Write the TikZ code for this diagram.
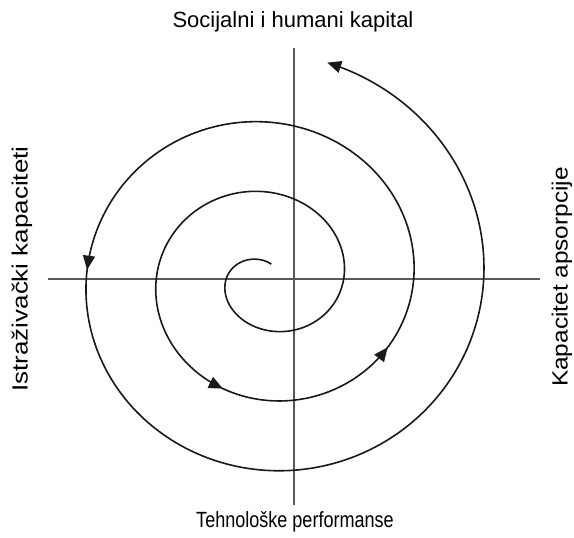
\documentclass[tikz,border=0pt]{standalone}
\usepackage{fontspec}
\setmainfont{Liberation Sans}
\usetikzlibrary{arrows.meta}
\begin{document}
\begin{tikzpicture}[x=1pt,y=-1pt,
  axisline/.style={draw=black!65,line width=1.2pt},
  spiral/.style={draw=black!90,line width=1.6pt,line join=round},
  tip/.style={-{Triangle[length=14pt,width=12pt]}},
  lbl/.style={font=\fontsize{22}{26}\selectfont,inner sep=0pt}]
\useasboundingbox (0,0) rectangle (574,538);
% axes
\coordinate (hL) at (48,279);
\coordinate (hR) at (540,279);
\coordinate (vT) at (294,48);
\coordinate (vB) at (294,505);
\draw[axisline] (hL) -- (hR);
\draw[axisline] (vT) -- (vB);
% spiral: phi in degrees, r = 0.1944 phi - 0.75, rx = r + 7
\def\sx#1{267.5+(0.1944*#1+6.25)*cos(#1)}
\def\sy#1{278.75-(0.1944*#1-0.75)*sin(#1)}
\draw[spiral,tip] plot[smooth,domain=80:609,samples=160,variable=\t] ({\sx{\t}},{\sy{\t}});
\draw[spiral,tip] plot[smooth,domain=606:689,samples=40,variable=\t] ({\sx{\t}},{\sy{\t}});
\draw[spiral,tip] plot[smooth,domain=686:897,samples=80,variable=\t] ({\sx{\t}},{\sy{\t}});
\draw[spiral,tip] plot[smooth,domain=894:1155,samples=100,variable=\t] ({\sx{\t}},{\sy{\t}});
% labels
\node[lbl] (top) at (293,22) {Socijalni i humani kapital};
\node[lbl,xscale=0.82] (bot) at (295,522) {Tehnološke performanse};
\node[lbl,rotate=90,xscale=1.18] (lft) at (22,269) {Istraživački kapaciteti};
\node[lbl,rotate=90,xscale=1.11] (rgt) at (562,277) {Kapacitet apsorpcije};
\end{tikzpicture}
\end{document}
